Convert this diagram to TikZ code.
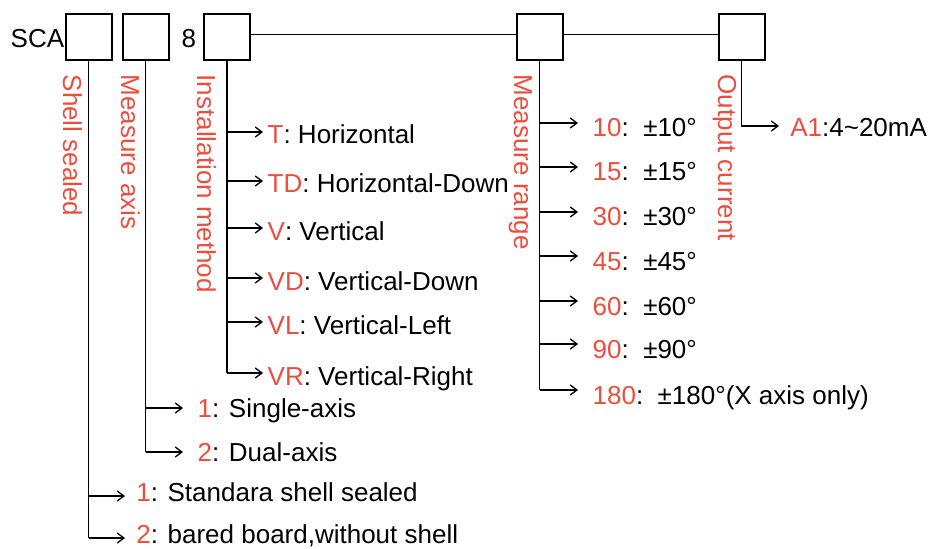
\documentclass[tikz,border=0pt]{standalone}
\usepackage{fontspec}
\setmainfont{Liberation Sans}
\usepackage{tikz}
\usetikzlibrary{arrows.meta}
\tikzset{>={Straight Barb[length=5pt, width=7.5pt]}}
\definecolor{codered}{RGB}{236,78,62}
\newcommand{\rd}[1]{\textcolor{codered}{#1}}

\begin{document}
\begin{tikzpicture}[x=0.75pt, y=-0.75pt, line width=1pt, font=\fontsize{19.5}{24}\selectfont,
	box/.style={draw, line width=1.5pt, minimum size=34.5pt, inner sep=0pt},
	tag/.style={rotate=-90, anchor=base west, inner sep=0pt, text=codered},
	opt/.style 2 args={anchor=west, inner ysep=0pt, inner xsep=#1, text height=#2, text depth=0pt}]

		\useasboundingbox (0,0) rectangle (932,549);

		\node [anchor=base west, inner sep=0pt] (sca) at (10,48) {SCA};
		\node [anchor=base west, inner sep=0pt] (eight) at (181,48) {8};
		\node [box] (b1) at (88.5,37) {};
		\node [box] (b2) at (145.5,37) {};
		\node [box] (b3) at (227,37) {};
		\node [box] (b4) at (539.5,37) {};
		\node [box] (b5) at (741.5,37) {};
		\draw ([yshift=2pt]b3.east) -- ([yshift=2pt]b4.west) ([yshift=2pt]b4.east) -- ([yshift=2pt]b5.west);

		\node [tag] (tshell) at (63,74) {Shell sealed};
		\node [tag] (taxis) at (121,74) {Measure axis};
		\node [tag] (tinst) at (197,74) {Installation method};
		\node [tag] (trange) at (514,74) {Measure range};
		\node [tag] (tout) at (718,74) {Output current};

		\foreach \c/\t/\y [count=\i] in {T/Horizontal/132, TD/Horizontal-Down/181, V/Vertical/228,
			VD/Vertical-Down/278, VL/Vertical-Left/322, VR/Vertical-Right/373}
		{\node [opt={3pt}{18pt}] (m\i) at (263,\y) {\rd{\c}: \t};
		\draw[->] (b3.south |- m\i.west) -- (m\i.west);
		}
		\draw (b3.south) -- (b3.south |- m6.west);

		\foreach \v/\x/\y [count=\i] in {10/{}/123, 15/{}/167, 30/{}/212, 45/{}/256,
			60/{}/301, 90/{}/344, 180/{(X axis only)}/390}
		{\node [opt={10.5pt}{21pt}] (r\i) at (578,\y) {\rd{\v}:\ \ ±\v°\x};
		\draw[->] (b4.south |- r\i.west) -- (r\i.west);
		}
		\draw (b4.south) -- (b4.south |- r7.west);

		\node [opt={8pt}{16.5pt}] (o1) at (779,126) {\rd{A1}:4\textasciitilde 20mA};
		\draw[->] (b5.south) |- (o1.west);

		\foreach \v/\t/\y in {1/Single-axis/408, 2/Dual-axis/452}
		{\node [opt={10.5pt}{13.5pt}] (a\v) at (183,\y) {\rd{\v}: \t};
		\draw[->] (b2.south |- a\v.west) -- (a\v.west);
		}
		\draw (b2.south) -- (b2.south |- a2.west);

		\foreach \v/\t/\y in {1/Standara shell sealed/496, 2/{bared board,without shell}/538}
		{\node [opt={8pt}{8pt}] (s\v) at (125,\y) {\rd{\v}: \t};
		\draw[->] (b1.south |- s\v.west) -- (s\v.west);
		}
		\draw (b1.south) -- (b1.south |- s2.west);
		\end{tikzpicture}
\end{document}
